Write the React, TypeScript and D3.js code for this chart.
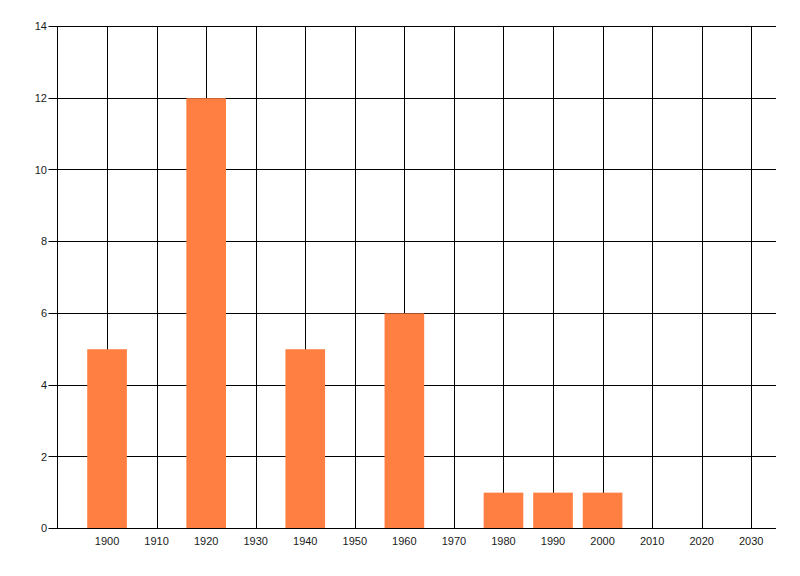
import React, { useEffect, useRef } from "react"
import * as d3 from "d3"

// data
const years = [1900, 1920, 1940, 1960, 1980, 1990, 2000]
const counts = [5, 12, 5, 6, 1, 1, 1]
const xTicks = [1900, 1910, 1920, 1930, 1940, 1950, 1960, 1970, 1980, 1990, 2000, 2010, 2020, 2030]
const yTicks = [0, 2, 4, 6, 8, 10, 12, 14]

const W = 800
const H = 576

export default function App() {
    const ref = useRef<SVGSVGElement>(null)

    useEffect(() => {
        const svg = d3.select(ref.current)
        svg.selectAll("*").remove()

        const left = 57.5
        const right = 776
        const top = 26.5
        const bottom = 528.5
        const font = "'Liberation Sans', Arial, sans-serif"

        const x = d3.scaleLinear().domain([1890, 2035]).range([left, right])
        const y = d3.scaleLinear().domain([0, 14]).range([bottom, top])
        const barW = x(1908) - x(1900)

        // grid
        svg.append("g")
            .selectAll("line")
            .data(xTicks)
            .join("line")
            .attr("x1", (d) => Math.round(x(d)) + 0.5)
            .attr("x2", (d) => Math.round(x(d)) + 0.5)
            .attr("y1", top)
            .attr("y2", bottom)
            .attr("stroke", "#000")
        svg.append("g")
            .selectAll("line")
            .data(yTicks)
            .join("line")
            .attr("x1", left - 9)
            .attr("x2", right)
            .attr("y1", (d) => Math.round(y(d) - 0.5) + 0.5)
            .attr("y2", (d) => Math.round(y(d) - 0.5) + 0.5)
            .attr("stroke", "#000")

        // bars
        svg.append("g")
            .selectAll("rect")
            .data(years)
            .join("rect")
            .attr("x", (d) => x(d) - barW / 2)
            .attr("width", barW)
            .attr("y", (d, i) => y(counts[i]))
            .attr("height", (d, i) => y(0) - y(counts[i]))
            .attr("fill", "#ff7f42")

        // axes lines
        svg.append("line")
            .attr("x1", left).attr("x2", left)
            .attr("y1", top).attr("y2", bottom)
            .attr("stroke", "#000")
        svg.append("line")
            .attr("x1", left).attr("x2", right)
            .attr("y1", bottom).attr("y2", bottom)
            .attr("stroke", "#000")

        // labels
        svg.append("g")
            .selectAll("text")
            .data(yTicks)
            .join("text")
            .attr("x", 47)
            .attr("y", (d) => y(d))
            .attr("dy", "0.35em")
            .attr("text-anchor", "end")
            .attr("font-family", font)
            .attr("font-size", 11)
            .attr("fill", "#1a1a1a")
            .text((d) => d)
        svg.append("g")
            .selectAll("text")
            .data(xTicks)
            .join("text")
            .attr("x", (d) => x(d))
            .attr("y", 545)
            .attr("text-anchor", "middle")
            .attr("font-family", font)
            .attr("font-size", 11)
            .attr("fill", "#1a1a1a")
            .text((d) => d)
    }, [])

    return (
        <svg
            ref={ref}
            width={W}
            height={H}
            style={{ position: "absolute", left: 0, top: 0, background: "#fff" }}
        />
    )
}
